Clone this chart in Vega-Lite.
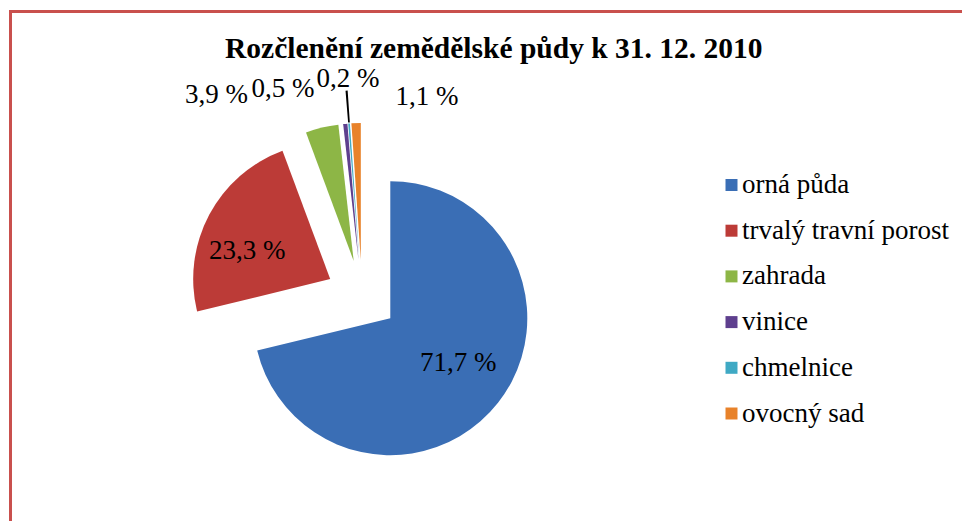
{
  "$schema": "https://vega.github.io/schema/vega-lite/v6.json",
  "width": 1010,
  "height": 560,
  "autosize": "none",
  "padding": {"left": 10, "top": 11, "right": -58, "bottom": -50},
  "background": "white",
  "config": {
    "view": {"stroke": null},
    "font": "Liberation Serif"
  },
  "title": {
    "text": "Rozčlenění zemědělské půdy k 31. 12. 2010",
    "font": "Liberation Serif",
    "fontSize": 29.5,
    "fontWeight": "bold",
    "color": "black",
    "anchor": "start",
    "dx": 215,
    "frame": "group",
    "baseline": "alphabetic",
    "offset": -76
  },
  "data": {
    "values": [
      {"kategorie": "orná půda", "podil": 71.7, "popisek": "71,7 %", "poradi": 1},
      {"kategorie": "trvalý travní porost", "podil": 23.3, "popisek": "23,3 %", "poradi": 2},
      {"kategorie": "zahrada", "podil": 3.9, "popisek": "3,9 %", "poradi": 3},
      {"kategorie": "vinice", "podil": 0.5, "popisek": "0,5 %", "poradi": 4},
      {"kategorie": "chmelnice", "podil": 0.2, "popisek": "0,2 %", "poradi": 5},
      {"kategorie": "ovocný sad", "podil": 1.1, "popisek": "1,1 %", "poradi": 6}
    ]
  },
  "layer": [
    {
      "mark": {"type": "point", "opacity": 0},
      "encoding": {
        "x": {"datum": 0, "type": "quantitative", "scale": {"domain": [0, 1]}, "axis": {"orient": "top", "domainColor": "#C9504D", "domainWidth": 3, "domainCap": "square", "ticks": false, "labels": false, "grid": false, "title": null}},
        "y": {"datum": 0, "type": "quantitative", "scale": {"domain": [0, 1]}, "axis": {"orient": "left", "domainColor": "#C9504D", "domainWidth": 3, "domainCap": "square", "ticks": false, "labels": false, "grid": false, "title": null}}
      }
    },
    {
      "encoding": {
        "theta": {"field": "podil", "type": "quantitative", "stack": true},
        "order": {"field": "poradi", "type": "quantitative"},
        "color": {
          "field": "kategorie",
          "type": "nominal",
          "scale": {
            "domain": ["orná půda", "trvalý travní porost", "zahrada", "vinice", "chmelnice", "ovocný sad"],
            "range": ["#3A6EB5", "#BC3B37", "#8DB646", "#5E3F8E", "#3FA9C4", "#E8822A"]
          },
          "legend": {
            "title": null,
            "orient": "none",
            "legendX": 708,
            "legendY": 160.5,
            "padding": 0,
            "symbolType": "square",
            "symbolSize": 144,
            "symbolStrokeWidth": 0,
            "symbolOpacity": 1,
            "labelFont": "Liberation Serif",
            "labelFontSize": 27,
            "labelColor": "black",
            "labelOffset": -3,
            "rowPadding": 17.7,
            "labelLimit": 400
          }
        }
      },
      "layer": [
        {
          "mark": {"type": "arc", "x": 352, "y": 285, "radius": 137, "xOffset": 28.3, "yOffset": 22.2},
          "encoding": {"opacity": {"condition": {"test": "datum.kategorie === 'orná půda'", "value": 1}, "value": 0}}
        },
        {
          "mark": {"type": "arc", "x": 352, "y": 285, "radius": 137, "xOffset": -31.8, "yOffset": -16.9},
          "encoding": {"opacity": {"condition": {"test": "datum.kategorie === 'trvalý travní porost'", "value": 1}, "value": 0}}
        },
        {
          "mark": {"type": "arc", "x": 352, "y": 285, "radius": 137, "xOffset": -8.3, "yOffset": -35.0},
          "encoding": {"opacity": {"condition": {"test": "datum.kategorie === 'zahrada'", "value": 1}, "value": 0}}
        },
        {
          "mark": {"type": "arc", "x": 352, "y": 285, "radius": 137, "xOffset": -3.5, "yOffset": -35.8},
          "encoding": {"opacity": {"condition": {"test": "datum.kategorie === 'vinice'", "value": 1}, "value": 0}}
        },
        {
          "mark": {"type": "arc", "x": 352, "y": 285, "radius": 137, "xOffset": -2.7, "yOffset": -35.9},
          "encoding": {"opacity": {"condition": {"test": "datum.kategorie === 'chmelnice'", "value": 1}, "value": 0}}
        },
        {
          "mark": {"type": "arc", "x": 352, "y": 285, "radius": 170, "radius2": 138, "xOffset": -2.7, "yOffset": -35.9},
          "encoding": {"color": {"value": "black"}, "opacity": {"condition": {"test": "datum.kategorie === 'chmelnice'", "value": 1}, "value": 0}}
        },
        {
          "mark": {"type": "arc", "x": 352, "y": 285, "radius": 137, "xOffset": -1.2, "yOffset": -36.0},
          "encoding": {"opacity": {"condition": {"test": "datum.kategorie === 'ovocný sad'", "value": 1}, "value": 0}}
        },
        {
          "mark": {"type": "text", "x": 352, "y": 285, "radius": 80, "xOffset": 28.3, "yOffset": 22.2, "dx": 5, "dy": -5, "fontSize": 27, "align": "center", "baseline": "middle"},
          "encoding": {"text": {"field": "popisek"}, "color": {"value": "black"}, "opacity": {"condition": {"test": "datum.kategorie === 'orná půda'", "value": 1}, "value": 0}}
        },
        {
          "mark": {"type": "text", "x": 352, "y": 285, "radius": 85, "xOffset": -31.8, "yOffset": -16.9, "dx": -8, "dy": 12, "fontSize": 27, "align": "center", "baseline": "middle"},
          "encoding": {"text": {"field": "popisek"}, "color": {"value": "black"}, "opacity": {"condition": {"test": "datum.kategorie === 'trvalý travní porost'", "value": 1}, "value": 0}}
        },
        {
          "mark": {"type": "text", "x": 352, "y": 285, "radius": 175, "dx": -105, "dy": -31, "fontSize": 27, "align": "center", "baseline": "middle"},
          "encoding": {"text": {"field": "popisek"}, "color": {"value": "black"}, "opacity": {"condition": {"test": "datum.kategorie === 'zahrada'", "value": 1}, "value": 0}}
        },
        {
          "mark": {"type": "text", "x": 352, "y": 285, "radius": 175, "dx": -62, "dy": -33, "fontSize": 27, "align": "center", "baseline": "middle"},
          "encoding": {"text": {"field": "popisek"}, "color": {"value": "black"}, "opacity": {"condition": {"test": "datum.kategorie === 'vinice'", "value": 1}, "value": 0}}
        },
        {
          "mark": {"type": "text", "x": 352, "y": 285, "radius": 175, "dx": -1, "dy": -42.5, "fontSize": 27, "align": "center", "baseline": "middle"},
          "encoding": {"text": {"field": "popisek"}, "color": {"value": "black"}, "opacity": {"condition": {"test": "datum.kategorie === 'chmelnice'", "value": 1}, "value": 0}}
        },
        {
          "mark": {"type": "text", "x": 352, "y": 285, "radius": 175, "dx": 71, "dy": -24, "fontSize": 27, "align": "center", "baseline": "middle"},
          "encoding": {"text": {"field": "popisek"}, "color": {"value": "black"}, "opacity": {"condition": {"test": "datum.kategorie === 'ovocný sad'", "value": 1}, "value": 0}}
        }
      ]
    }
  ]
}
